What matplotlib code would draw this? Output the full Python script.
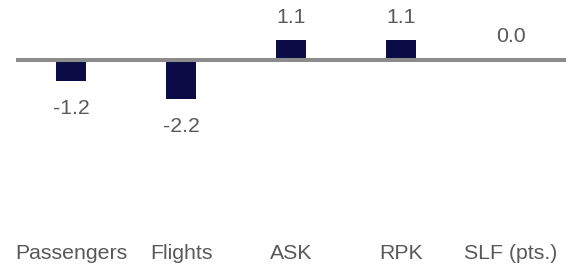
import matplotlib
matplotlib.use('Agg')
import matplotlib.pyplot as plt

categories = ['Passengers', 'Flights', 'ASK', 'RPK', 'SLF (pts.)']
values = [-1.2, -2.2, 1.1, 1.1, 0.0]
value_labels = ['-1.2', '-2.2', '1.1', '1.1', '0.0']

bar_color = '#0b0b45'
text_color = '#595959'
fontsize = 15.3

plt.rcParams['font.family'] = ['Liberation Sans', 'DejaVu Sans']

fig = plt.figure(figsize=(5.72, 2.66), dpi=100)
ax = fig.add_axes([0, 26 / 266, 1, 240 / 266])

x = list(range(len(categories)))
ax.bar(x, values, width=0.273, color=bar_color, zorder=2)
ax.plot([-0.5, len(categories) - 0.5], [0, 0], color='#8c8c8c', lw=2.9, zorder=3,
        solid_capstyle='butt')

for xi, v, lab in zip(x, values, value_labels):
    if v < 0:
        ax.annotate(lab, (xi, v), xytext=(0, -27), textcoords='offset pixels',
                    ha='center', va='center', fontsize=fontsize, color=text_color)
    else:
        ax.annotate(lab, (xi, v), xytext=(0, 23), textcoords='offset pixels',
                    ha='center', va='center', fontsize=fontsize, color=text_color)

ax.set_xlim(-71 / 110, (572 - 71) / 110)
ax.set_ylim(-180 / 17.8, 60 / 17.8)
ax.set_xticks(x)
ax.set_xticklabels(categories, fontsize=fontsize, color=text_color)
ax.tick_params(axis='x', length=0, pad=3)
ax.set_yticks([])
for s in ax.spines.values():
    s.set_visible(False)

fig.savefig('out.png', dpi=100)
